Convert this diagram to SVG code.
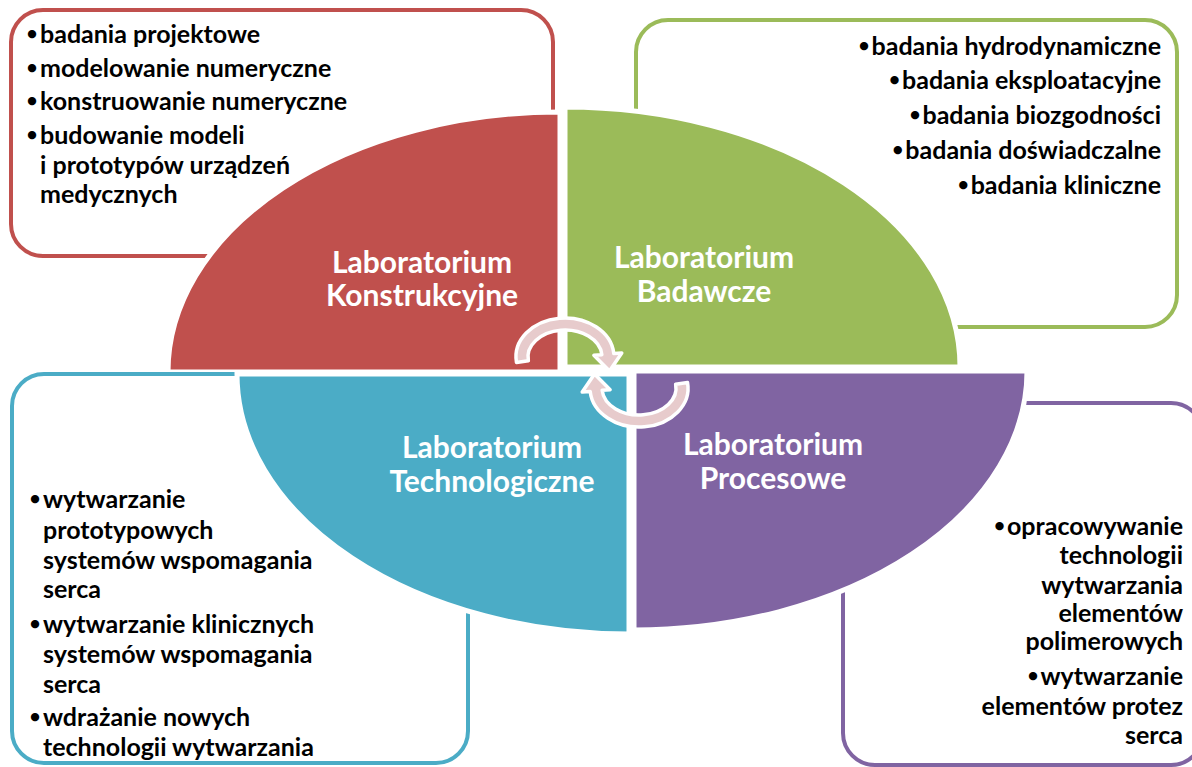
<svg xmlns="http://www.w3.org/2000/svg" width="1192" height="767" viewBox="0 0 1192 767">
<style>
.box{fill:#fff;stroke-width:4}
.quad{stroke:#fff;stroke-width:5}
.title{font-family:Lato,"Liberation Sans",sans-serif;font-weight:bold;font-size:30px;fill:#fff;text-anchor:middle}
.body{font-family:Lato,"Liberation Sans",sans-serif;font-weight:bold;font-size:25px;fill:#000}
.end{text-anchor:end}
.bul{text-anchor:middle;font-size:19px}
.b{font-size:19px;baseline-shift:3px}
.arrow{fill:#E7CBCC;stroke:#fff;stroke-width:3.5;stroke-linejoin:round}
</style>
<rect width="1192" height="767" fill="#fff"/>
<g id="node-konstrukcyjne">
<rect class="box" x="11" y="10" width="542" height="246" rx="32" stroke="#C0504D"/>
<path class="quad" fill="#C0504D" d="M560,372 L168,372 A392,260 0 0 1 560,112 Z"/>
<text class="title" x="422" y="273">Laboratorium</text>
<text class="title" x="422" y="306">Konstrukcyjne</text>
<text class="body bul" x="32" y="40">•</text><text class="body" x="40" y="43">badania projektowe</text>
<text class="body bul" x="32" y="74">•</text><text class="body" x="40" y="77">modelowanie numeryczne</text>
<text class="body bul" x="32" y="107">•</text><text class="body" x="40" y="110">konstruowanie numeryczne</text>
<text class="body bul" x="32" y="141">•</text><text class="body" x="40" y="144">budowanie modeli</text>
<text class="body" x="40" y="174">i prototypów urządzeń</text>
<text class="body" x="40" y="203">medycznych</text>
</g>
<g id="node-badawcze">
<rect class="box" x="636" y="20" width="541" height="307" rx="32" stroke="#9BBB59"/>
<path class="quad" fill="#9BBB59" d="M565,367 L565,107 A395,260 0 0 1 960,367 Z"/>
<text class="title" x="704" y="268">Laboratorium</text>
<text class="title" x="704" y="302">Badawcze</text>
<text class="body end" x="1161" y="55"><tspan class="b">•</tspan><tspan dx="2">badania hydrodynamiczne</tspan></text>
<text class="body end" x="1161" y="89"><tspan class="b">•</tspan><tspan dx="2">badania eksploatacyjne</tspan></text>
<text class="body end" x="1161" y="124"><tspan class="b">•</tspan><tspan dx="2">badania biozgodności</tspan></text>
<text class="body end" x="1161" y="159"><tspan class="b">•</tspan><tspan dx="2">badania doświadczalne</tspan></text>
<text class="body end" x="1161" y="194"><tspan class="b">•</tspan><tspan dx="2">badania kliniczne</tspan></text>
</g>
<g id="node-technologiczne">
<rect class="box" x="12" y="374" width="456" height="389" rx="32" stroke="#4BACC6"/>
<path class="quad" fill="#4BACC6" d="M629,374 L629,634 A392,260 0 0 1 237,374 Z"/>
<text class="title" x="492" y="458">Laboratorium</text>
<text class="title" x="492" y="492">Technologiczne</text>
<text class="body bul" x="35" y="505">•</text><text class="body" x="43" y="508">wytwarzanie</text>
<text class="body" x="43" y="539">prototypowych</text>
<text class="body" x="43" y="569">systemów wspomagania</text>
<text class="body" x="43" y="598">serca</text>
<text class="body bul" x="35" y="630">•</text><text class="body" x="43" y="633">wytwarzanie klinicznych</text>
<text class="body" x="43" y="663">systemów wspomagania</text>
<text class="body" x="43" y="693">serca</text>
<text class="body bul" x="35" y="723">•</text><text class="body" x="43" y="726">wdrażanie nowych</text>
<text class="body" x="43" y="756">technologii wytwarzania</text>
</g>
<g id="node-procesowe">
<rect class="box" x="843" y="403" width="360" height="362" rx="32" stroke="#8064A2"/>
<path class="quad" fill="#8064A2" d="M634,371 L1027,371 A393,259 0 0 1 634,630 Z"/>
<text class="title" x="773" y="455">Laboratorium</text>
<text class="title" x="773" y="489">Procesowe</text>
<text class="body end" x="1183" y="535"><tspan class="b">•</tspan><tspan dx="2">opracowywanie</tspan></text>
<text class="body end" x="1183" y="564">technologii</text>
<text class="body end" x="1183" y="594">wytwarzania</text>
<text class="body end" x="1183" y="622">elementów</text>
<text class="body end" x="1183" y="650">polimerowych</text>
<text class="body end" x="1183" y="685"><tspan class="b">•</tspan><tspan dx="2">wytwarzanie</tspan></text>
<text class="body end" x="1183" y="715">elementów protez</text>
<text class="body end" x="1183" y="744">serca</text>
</g>
<g id="connectors">
<path id="arrow-top" class="arrow" d="M516.48,362.43 A49,39 0 1 1 613.81,353.6 L621.78,352.9 L609.5,371 L593.89,355.34 L601.86,354.65 A37,27 0 1 0 528.36,360.76 Z"/>
<path id="arrow-bottom" class="arrow" d="M516.48,362.43 A49,39 0 1 1 613.81,353.6 L621.78,352.9 L609.5,371 L593.89,355.34 L601.86,354.65 A37,27 0 1 0 528.36,360.76 Z" transform="rotate(180 602 372.5)"/>
</g>
</svg>
